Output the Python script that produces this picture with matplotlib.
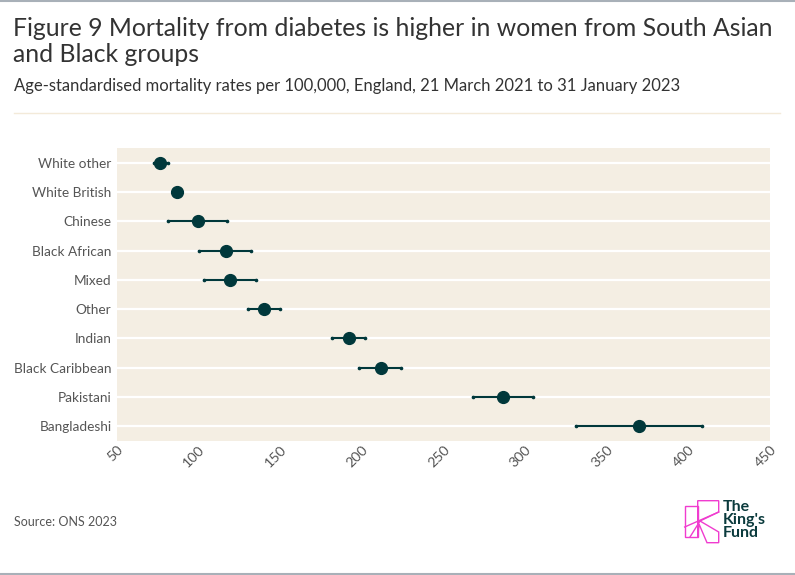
import matplotlib.pyplot as plt
from matplotlib.lines import Line2D
from matplotlib.patches import Polygon

groups = ['White other', 'White British', 'Chinese', 'Black African', 'Mixed',
          'Other', 'Indian', 'Black Caribbean', 'Pakistani', 'Bangladeshi']
rate = [76.5, 86.5, 99.5, 116.5, 119.5, 140, 192, 211.5, 286.5, 369.5]
lower = [72.5, 85, 81.5, 100.5, 103.5, 130.5, 182, 198.5, 268, 331]
upper = [81, 88, 117.5, 132, 135, 150, 202, 224, 305, 408.5]
xticks = [50, 100, 150, 200, 250, 300, 350, 400, 450]

dark = '#00383b'
grey = '#555555'
panel = '#f4eee3'

plt.rcParams['font.family'] = ['Lato', 'DejaVu Sans']

fig = plt.figure(figsize=(7.95, 5.75), dpi=100)
W, H = 795, 575

def fx(px):
    return px / W

def fy(py):
    return 1 - py / H

ax = fig.add_axes([fx(117), fy(441), fx(770) - fx(117), fy(148) - fy(441)])
ax.set_facecolor(panel)
for s in ax.spines.values():
    s.set_visible(False)

ypos = list(range(len(groups)))
for y in ypos:
    ax.axhline(y, color='white', lw=1.6, zorder=1)

for y, r, lo, hi in zip(ypos, rate, lower, upper):
    ax.plot([lo, hi], [y, y], color=dark, lw=1.5, zorder=2)
    ax.plot([lo, hi], [y, y], 'o', color=dark, ms=1.6, zorder=2)
ax.plot(rate, ypos, 'o', color=dark, ms=8.5, zorder=3, linestyle='none')

ax.set_xlim(50, 450)
ax.set_ylim(len(groups) - 0.5, -0.5)
ax.set_yticks(ypos)
ax.set_yticklabels(groups, fontsize=9.8, color=grey)
ax.set_xticks(xticks)
ax.set_xticklabels([str(t) for t in xticks], fontsize=10.3, color=grey,
                   rotation=45, ha='right', va='top', rotation_mode='anchor')
ax.tick_params(axis='both', length=0)
ax.tick_params(axis='y', pad=4)
ax.tick_params(axis='x', pad=2)

fig.text(fx(13), fy(17), 'Figure 9 Mortality from diabetes is higher in women from South Asian\nand Black groups',
         fontsize=17.8, color='#333333', va='top', ha='left', linespacing=1.17)
fig.text(fx(14), fy(86), 'Age-standardised mortality rates per 100,000, England, 21 March 2021 to 31 January 2023',
         fontsize=12, color='#333333', va='center', ha='left')
fig.text(fx(14), fy(522), 'Source: ONS 2023', fontsize=9, color=grey, va='center', ha='left')

fig.add_artist(Line2D([fx(14), fx(780)], [fy(113), fy(113)], color='#f3ead9', lw=1))
fig.add_artist(Line2D([0, 1], [fy(0.5), fy(0.5)], color='#a8b0b8', lw=1.5))
fig.add_artist(Line2D([0, 1], [fy(573.5), fy(573.5)], color='#a8b0b8', lw=1.5))

# logo
pink = '#f03ccf'
rect = [(684.7, 506), (697.7, 506), (697.7, 537), (684.7, 537)]
kshape = [(697.7, 500.7), (718.7, 500.7), (718.7, 512), (700, 521),
          (718.7, 532), (718.7, 542.7), (707, 542.7), (699, 524),
          (697.7, 537)]
for pts in (rect, kshape):
    fig.add_artist(Polygon([(fx(a), fy(b)) for a, b in pts], closed=True,
                           fill=False, edgecolor=pink, lw=1))
fig.add_artist(Line2D([fx(684.7), fx(718.7)], [fy(527), fy(512)], color=pink, lw=1))
fig.add_artist(Line2D([fx(690), fx(700)], [fy(537), fy(521)], color=pink, lw=1))
fig.text(fx(723), fy(500), "The\nKing's\nFund", fontsize=11.5, fontweight='bold',
         color='#0b3b3d', va='top', ha='left', linespacing=0.92)

fig.savefig('out.png', dpi=100)
